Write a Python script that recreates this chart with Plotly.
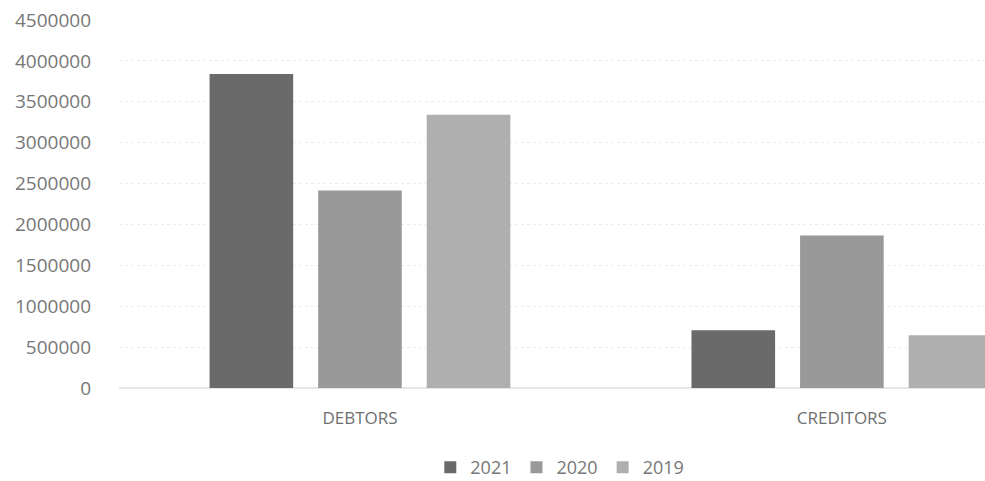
import plotly.graph_objects as go

categories = ["DEBTORS", "CREDITORS"]
years = ["2021", "2020", "2019"]
values_2021 = [3840000, 707000]
values_2020 = [2415000, 1866000]
values_2019 = [3340000, 646000]
colors = ["#6a6a6a", "#999999", "#afafaf"]
y_ticks = [0, 500000, 1000000, 1500000, 2000000, 2500000, 3000000, 3500000, 4000000, 4500000]

series = [values_2021, values_2020, values_2019]

fig = go.Figure()
for name, vals, col in zip(years, series, colors):
    fig.add_trace(go.Bar(name=name, x=categories, y=vals, marker=dict(color=col, line=dict(width=0))))

font_family = "Open Sans"
fig.update_layout(
    width=985, height=481,
    margin=dict(l=119, r=0, t=20, b=93, autoexpand=False),
    paper_bgcolor="white", plot_bgcolor="white",
    barmode="group", bargap=0.324, bargroupgap=0.23,
    font=dict(family=font_family, size=18, color="#777777"),
    showlegend=True,
    legend=dict(orientation="h", x=0.509, xanchor="center", yref="container", y=0.028, yanchor="middle",
                font=dict(size=18, color="#777777"), itemwidth=30, traceorder="normal"),
)
fig.update_xaxes(range=[-0.5, 1.297], showgrid=False, showline=False, zeroline=False,
                 ticks="", tickfont=dict(size=17, color="#6f6f6f"), ticklabelstandoff=18)
fig.update_yaxes(range=[0, 4500000], tickvals=y_ticks, ticktext=[str(v) for v in y_ticks],
                 showgrid=True, gridcolor="#ececec", gridwidth=1, griddash="dot",
                 zeroline=True, zerolinecolor="#e6e6e6", showline=False,
                 tickfont=dict(size=19, color="#777777"), ticklabelstandoff=27)

fig.write_html("out.html")
